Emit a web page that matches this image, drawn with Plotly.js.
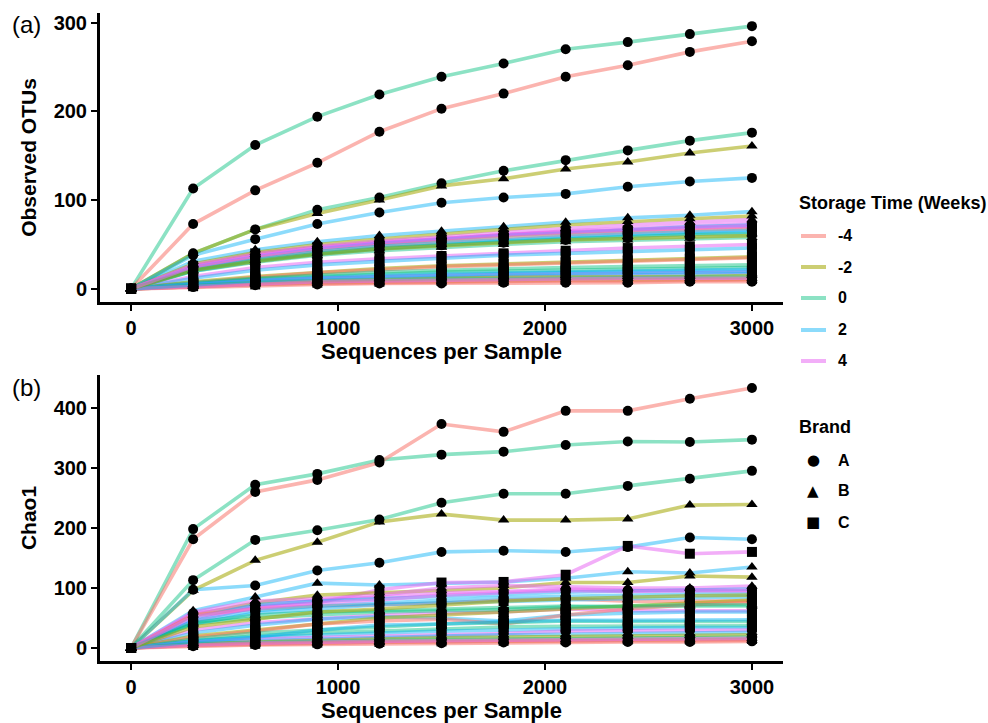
<!DOCTYPE html>
<html>
<head>
<meta charset="utf-8">
<script src="https://cdn.plot.ly/plotly-3.0.1.min.js"></script>
<style>html,body{margin:0;padding:0;background:#fff;}#chart{width:988px;height:723px;}</style>
</head>
<body>
<div id="chart"></div>
<script>
// ---------- DATA ----------
const depth = [0,300,600,900,1200,1500,1800,2100,2400,2700,3000];
const storageLevels = ["-4","-2","0","2","4"];
const brandLevels = ["A","B","C"];

const sampleStorage = ["0","-4","0","-2","2","2","4","-2","4","4","2","-4","2","2","0","4","2","-2","-4","0","0","2","4","2","-2","0","-2","-4","-4","4","2","0","-2","4"];
const sampleBrand   = ["A","A","A","B","A","B","C","B","B","A","A","A","A","C","B","C","C","C","C","C","C","C","A","B","B","A","C","B","A","B","C","B","A","A"];

// Observed OTUs per sample
const otu = [
 [0,113,162,194,219,239,254,270,278,287,296],
 [0,73,111,142,177,203,220,239,252,267,279],
 [0,40,67,89,103,119,133,145,156,167,176],
 [0,40,67,85,100,116,124,135,143,153,161],
 [0,38,56,73,86,97,103,107,115,121,125],
 [0,31,44,53,60,65,70,75,80,83,87],
 [0,26,40,47,52,57,61,64,66,68,70],
 [0,28,41,50,56,62,67,72,76,79,82],
 [0,27,39,48,54,59,64,68,72,75,78],
 [0,25,37,46,52,57,61,65,68,71,74],
 [0,24,36,45,51,56,60,63,67,70,72],
 [0,23,35,43,49,54,58,61,64,66,68],
 [0,22,33,42,48,52,56,59,62,64,66],
 [0,20,31,39,45,50,54,57,60,62,64],
 [0,21,32,40,46,50,53,56,59,61,62],
 [0,14,24,30,34,37,40,43,46,48,50],
 [0,12,21,27,31,35,38,40,42,44,46],
 [0,8,14,19,23,26,28,30,32,34,36],
 [0,7,13,18,22,25,27,29,31,33,35],
 [0,7,12,16,19,21,23,24,25,26,27],
 [0,6,11,14,17,19,20,21,22,23,24],
 [0,6,10,13,15,17,18,19,20,21,22],
 [0,5,9,12,14,15,16,17,18,18,19],
 [0,5,8,10,12,13,14,15,16,16,17],
 [0,4,7,9,11,12,13,13,14,14,15],
 [0,4,6,8,10,11,11,12,12,13,13],
 [0,3,5,7,8,9,9,10,10,11,11],
 [0,3,5,6,7,8,8,9,9,10,10],
 [0,2,4,5,6,6,7,7,7,8,8],
 [0,3,6,8,9,10,11,11,12,12,12],
 [0,5,9,12,14,16,17,18,19,19,20],
 [0,20,30,38,43,47,50,53,55,57,58],
 [0,21,31,39,45,49,52,55,57,59,60],
 [0,25,37,46,52,57,61,64,67,69,71]
];

// Chao1 per sample
const chao = [
 [0,198,272,290,313,322,327,338,344,343,347],
 [0,181,260,280,309,373,360,395,395,415,433],
 [0,113,180,196,214,242,257,257,270,282,295],
 [0,96,146,176,210,223,213,213,215,238,239],
 [0,97,104,129,142,160,162,160,168,184,181],
 [0,62,85,108,105,107,110,116,127,125,135],
 [0,45,68,75,97,109,110,122,170,157,160],
 [0,55,75,88,92,96,100,109,109,120,118],
 [0,60,78,82,88,100,104,102,100,100,103],
 [0,58,70,80,85,92,94,98,96,95,95],
 [0,50,72,78,82,86,90,93,95,97,98],
 [0,55,65,70,72,75,80,82,78,78,78],
 [0,45,62,70,75,80,84,86,88,90,90],
 [0,40,58,65,72,75,78,80,82,84,85],
 [0,42,55,60,62,65,68,70,68,70,70],
 [0,30,42,48,55,58,60,65,62,62,62],
 [0,25,38,48,52,50,45,55,58,60,60],
 [0,20,30,40,50,55,60,65,70,75,80],
 [0,18,28,40,45,48,40,55,65,72,76],
 [0,15,25,30,35,40,42,45,44,44,44],
 [0,12,20,25,28,32,35,36,36,37,37],
 [0,12,18,22,25,28,30,32,33,34,34],
 [0,10,15,18,20,22,24,28,29,30,30],
 [0,8,12,15,18,20,22,23,24,25,26],
 [0,7,10,13,15,17,18,19,20,21,22],
 [0,6,9,11,13,14,15,16,17,17,18],
 [0,5,7,9,10,11,12,13,14,14,15],
 [0,4,6,8,9,10,11,11,12,12,13],
 [0,3,5,6,7,8,9,9,10,10,11],
 [0,5,8,10,11,12,13,14,15,15,16],
 [0,10,18,30,38,40,44,46,46,47,47],
 [0,40,50,55,60,62,64,68,70,72,72],
 [0,35,48,60,65,72,78,82,85,87,88],
 [0,52,66,75,80,88,92,96,94,96,96]
];

// ---------- STYLE ----------
const storageColor = {"-4":"rgba(248,118,109,0.55)","-2":"rgba(163,165,0,0.55)","0":"rgba(0,191,125,0.45)","2":"rgba(0,176,246,0.45)","4":"rgba(231,107,243,0.55)"};
const brandSymbol = {"A":"circle","B":"triangle-up","C":"square"};
const brandGlyph = {"A":"●","B":"▲","C":"■"};
const FONT = "Liberation Sans, Arial, sans-serif";

const traces = [];
function addPanel(values, xa, ya){
  values.forEach((v,i)=>{
    traces.push({x:depth, y:v, xaxis:xa, yaxis:ya, type:'scatter', mode:'lines',
      line:{color:storageColor[sampleStorage[i]], width:3.6}, showlegend:false, hoverinfo:'skip'});
  });
  values.forEach((v,i)=>{
    traces.push({x:depth, y:v, xaxis:xa, yaxis:ya, type:'scatter', mode:'markers',
      marker:{color:'black', symbol:brandSymbol[sampleBrand[i]], size:10}, showlegend:false, hoverinfo:'skip'});
  });
}
addPanel(otu,'x','y');
addPanel(chao,'x2','y2');

// pixel helpers (plot area 100..783 x, 13..661 y)
const L=100, R=783, T=13, B=661;
const px = p => (p-L)/(R-L);
const py = p => (B-p)/(B-T);

const axisCommon = {
  showline:true, linecolor:'black', linewidth:3, mirror:false,
  ticks:'outside', ticklen:6, tickwidth:2, tickcolor:'black',
  showgrid:false, zeroline:false,
  tickfont:{family:FONT, size:20, color:'black', weight:'bold'}
};

const annotations = [
  {text:'(a)', x:px(26), y:py(25), xref:'paper', yref:'paper', xanchor:'center', yanchor:'middle', showarrow:false, font:{family:FONT,size:24,color:'black'}},
  {text:'(b)', x:px(26), y:py(387), xref:'paper', yref:'paper', xanchor:'center', yanchor:'middle', showarrow:false, font:{family:FONT,size:24,color:'black'}},
  {text:'<b>Storage Time (Weeks)</b>', x:px(797), y:py(203), xref:'paper', yref:'paper', xanchor:'left', yanchor:'middle', showarrow:false, font:{family:FONT,size:18,color:'black'}},
  {text:'<b>Brand</b>', x:px(797), y:py(427), xref:'paper', yref:'paper', xanchor:'left', yanchor:'middle', showarrow:false, font:{family:FONT,size:18,color:'black'}}
];
const shapes = [];
const legY = [236,267,298,330,361];
storageLevels.forEach((s,k)=>{
  shapes.push({type:'line', xref:'paper', yref:'paper', x0:px(801), x1:px(826), y0:py(legY[k]), y1:py(legY[k]), line:{color:storageColor[s], width:4}});
  annotations.push({text:'<b>'+s+'</b>', x:px(836), y:py(legY[k]), xref:'paper', yref:'paper', xanchor:'left', yanchor:'middle', showarrow:false, font:{family:FONT,size:16,color:'black'}});
});
const brandY = [460,491,522];
brandLevels.forEach((b,k)=>{
  annotations.push({text:brandGlyph[b], x:px(813), y:py(brandY[k]), xref:'paper', yref:'paper', xanchor:'center', yanchor:'middle', showarrow:false, font:{family:'DejaVu Sans',size:15,color:'black'}});
  annotations.push({text:'<b>'+b+'</b>', x:px(836), y:py(brandY[k]), xref:'paper', yref:'paper', xanchor:'left', yanchor:'middle', showarrow:false, font:{family:FONT,size:16,color:'black'}});
});

const layout = {
  width:988, height:723,
  margin:{l:L, r:988-R, t:T, b:723-B},
  paper_bgcolor:'white', plot_bgcolor:'white',
  showlegend:false,
  xaxis:Object.assign({}, axisCommon, {anchor:'y', range:[-150,3150], tickvals:[0,1000,2000,3000],
    title:{text:'<b>Sequences per Sample</b>', font:{family:FONT,size:22,color:'black'}, standoff:6}}),
  yaxis:Object.assign({}, axisCommon, {domain:[py(302),1], range:[-14.8,310.8], tickvals:[0,100,200,300],
    title:{text:'<b>Observed OTUs</b>', font:{family:FONT,size:21,color:'black'}, standoff:12}}),
  xaxis2:Object.assign({}, axisCommon, {anchor:'y2', range:[-150,3150], tickvals:[0,1000,2000,3000],
    title:{text:'<b>Sequences per Sample</b>', font:{family:FONT,size:22,color:'black'}, standoff:6}}),
  yaxis2:Object.assign({}, axisCommon, {domain:[0,py(375)], range:[-21.7,454.7], tickvals:[0,100,200,300,400],
    title:{text:'<b>Chao1</b>', font:{family:FONT,size:21,color:'black'}, standoff:12}}),
  annotations:annotations,
  shapes:shapes
};

Plotly.newPlot('chart', traces, layout, {displayModeBar:false, staticPlot:true});
</script>
</body>
</html>
